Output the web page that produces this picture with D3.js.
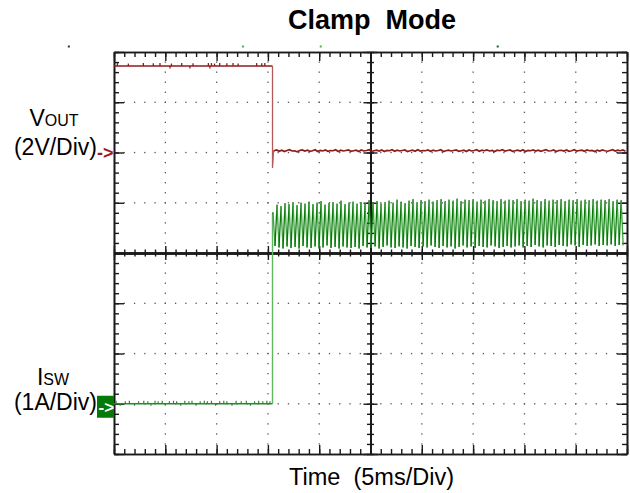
<!DOCTYPE html>
<html><head><meta charset="utf-8">
<script src="https://cdn.jsdelivr.net/npm/d3@7"></script>
<style>html,body{margin:0;padding:0;background:#fff;}svg{display:block;font-family:"Liberation Sans",Arial,sans-serif;}</style>
</head><body>
<script>
// ---- data ----
const titleText = "Clamp\u00A0 Mode";
const xLabel = "Time\u00A0 (5ms/Div)";
const timeDomain = [0, 50];            // ms, 10 div x 5 ms
const divMinor = 0.2, timeMinor = 1;
const sampleStep = 0.25;               // ms
const stepTime = 15.45;                // ms, switching event
// Vout (V) before the event: flat level plus noise spikes [t, dV]
const voutLevelBefore = 3.44;
const voutSpikes = [[0.33,0.12],[1.4,0.10],[2.86,0.12],[3.83,0.11],[4.48,0.12],[5.46,-0.10],[5.6,0.10],
  [6.6,0.12],[7.4,-0.10],[7.7,0.11],[9.2,0.12],[9.35,-0.10],[9.5,0.12],[9.8,0.10],[10.3,0.12],
  [11.0,0.11],[11.6,0.12],[12.1,0.10],[13.9,0.12],[14.4,0.11],[14.7,0.12]];
const voutStep = [[15.45,3.44],[15.45,-0.62],[15.55,0.07]];
const voutAfterStart = 15.6;
const voutAfter = [0.07,0.10,0.05,0.09,0.04,0.08,0.11,0.06,0.07,0.03,
  0.08,0.10,0.06,0.09,0.05,0.07,0.11,0.04,0.08,0.06,
  0.10,0.05,0.08,0.07,0.11,0.04,0.09,0.06,0.08,0.10,
  0.05,0.07,0.09,0.04,0.10,0.06,0.08,0.11,0.05,0.07,
  0.09,0.06,0.10,0.04,0.08,0.07,0.11,0.05,0.09,0.06,
  0.08,0.10,0.04,0.07,0.09,0.05,0.11,0.06,0.08,0.07,
  0.10,0.05,0.09,0.06,0.08,0.11,0.04,0.07,0.09,0.06,
  0.08,0.10,0.05,0.07,0.09,0.04,0.10,0.06,0.08,0.11,
  0.05,0.09,0.07,0.10,0.06,0.08,0.04,0.09,0.07,0.11,
  0.06,0.08,0.10,0.05,0.07,0.09,0.06,0.11,0.04,0.08,
  0.07,0.10,0.06,0.09,0.05,0.08,0.11,0.06,0.07,0.10,
  0.04,0.08,0.09,0.06,0.10,0.05,0.07,0.11,0.06,0.08,
  0.09,0.05,0.10,0.07,0.08,0.04,0.09,0.06,0.10,0.07,
  0.05,0.08,0.11,0.06,0.09,0.07,0.10,0.05];
// Isw (A) before the event: flat level plus noise spikes [t, dI]
const iswLevelBefore = 0.0;
const iswSpikes = [[0.2,0.06],[0.6,-0.04],[1.1,0.05],[1.5,0.06],[2.0,-0.04],[2.4,0.05],[2.9,0.06],
  [3.3,0.05],[3.6,-0.04],[4.0,0.06],[4.3,0.05],[4.7,0.06],[5.0,-0.04],[5.4,0.05],[5.8,0.06],
  [6.1,0.05],[6.5,-0.04],[6.9,0.06],[7.3,0.05],[7.6,0.06],[8.0,-0.04],[8.4,0.05],[8.8,0.06],
  [9.1,0.05],[9.5,0.06],[9.9,-0.04],[10.3,0.05],[10.7,0.06],[11.0,0.05],[11.5,-0.04],[11.9,0.06],
  [12.4,0.05],[12.9,0.06],[13.3,-0.04],[13.7,0.05],[14.1,0.06],[14.5,0.05],[14.9,0.06],[15.2,0.05]];
const iswStep = [[15.45,0.0],[15.45,3.78]];
const swStart = 15.5, swPeriod = 0.39;  // ms
const iswHigh = [3.80,3.95,3.92,3.98,3.96,4.00,3.94,3.99,3.97,4.01,
  3.96,3.99,4.02,3.95,3.98,4.00,3.97,4.03,3.96,3.99,
  4.01,3.97,4.00,3.98,4.04,3.99,4.02,3.97,4.00,4.03,
  3.99,4.05,4.01,3.98,4.03,4.06,4.00,4.04,4.02,4.05,
  4.01,4.04,4.06,4.02,4.05,4.03,4.07,4.02,4.05,4.04,
  4.06,4.01,4.05,4.03,4.06,4.04,4.02,4.06,4.03,4.05,
  4.04,4.06,4.02,4.05,4.03,4.07,4.04,4.02,4.06,4.03,
  4.05,4.04,4.06,4.02,4.05,4.04,4.06,4.03,4.05,4.04,
  4.06,4.03,4.05,4.04,4.06,4.02,4.05,4.04];
const iswLow = [3.15,3.12,3.10,3.14,3.11,3.13,3.10,3.15,3.12,3.11,
  3.14,3.10,3.12,3.16,3.11,3.13,3.10,3.14,3.12,3.11,
  3.13,3.10,3.15,3.12,3.11,3.14,3.10,3.13,3.16,3.12,
  3.11,3.14,3.12,3.10,3.15,3.13,3.11,3.14,3.12,3.16,
  3.13,3.11,3.15,3.12,3.14,3.10,3.13,3.16,3.12,3.14,
  3.11,3.15,3.13,3.12,3.16,3.14,3.11,3.13,3.15,3.12,
  3.14,3.16,3.12,3.15,3.13,3.17,3.14,3.12,3.16,3.15,
  3.13,3.17,3.15,3.14,3.18,3.16,3.13,3.17,3.15,3.16,
  3.18,3.15,3.17,3.16,3.18,3.15,3.17,3.16];
const triggerMarks = [{t:12.57, c:"#5aa85a"},{t:20.15, c:"#4caf50"},{t:37.4, c:"#1d5e1d"},{t:-4.4, c:"#333"}];

// ---- drawing ----
const W = 630, H = 493;
const svg = d3.select("body").append("svg").attr("width", W).attr("height", H);
const x = d3.scaleLinear().domain(timeDomain).range([114, 627]);
const yDiv = d3.scaleLinear().domain([-4, 4]).range([454, 52]);
const yV = d3.scaleLinear().domain([-12, 4]).range([454, 52]);   // 2V/div, ref at +2 div
const yI = d3.scaleLinear().domain([-1, 7]).range([454, 52]);    // 1A/div, ref at -3 div

const minorT = d3.range(0, 50.001, timeMinor);
const majorT = d3.range(0, 50.001, 5);
const minorD = d3.range(-4, 4.001, divMinor).map(v => +v.toFixed(2));
const majorD = d3.range(-4, 4.001, 1);

// grid dots
const dots = svg.append("g").attr("fill", "#555");
[5,10,15,20,30,35,40,45].forEach(t => {
  minorD.forEach(d => { if (d > -4 && d < 4) dots.append("rect").attr("x", x(t)-0.6).attr("y", yDiv(d)-0.6).attr("width",1.3).attr("height",1.3); });
});
[-3,-2,-1,1,2,3].forEach(d => {
  minorT.forEach(t => { if (t > 0 && t < 50) dots.append("rect").attr("x", x(t)-0.6).attr("y", yDiv(d)-0.6).attr("width",1.3).attr("height",1.3); });
});

function styleAxis(g, w) {
  g.selectAll("path.domain").attr("stroke", "#1a1a1a").attr("stroke-width", w);
  g.selectAll(".tick line").attr("stroke", "#1a1a1a").attr("stroke-width", 1.4);
  g.selectAll("text").remove();
}
function addAxis(axisFn, scale, vals, size, transform, w) {
  const g = svg.append("g").attr("transform", transform)
    .call(axisFn(scale).tickValues(vals).tickSize(size).tickSizeOuter(0).tickFormat(""));
  styleAxis(g, w);
}
// frame
addAxis(d3.axisBottom, x, minorT, 5, `translate(0,${yDiv(4)})`, 1.6);
addAxis(d3.axisBottom, x, majorT, 9, `translate(0,${yDiv(4)})`, 1.6);
addAxis(d3.axisTop, x, minorT, 5, `translate(0,${yDiv(-4)})`, 1.6);
addAxis(d3.axisTop, x, majorT, 9, `translate(0,${yDiv(-4)})`, 1.6);
addAxis(d3.axisRight, yDiv, minorD, 5, `translate(${x(0)},0)`, 1.6);
addAxis(d3.axisRight, yDiv, majorD, 10, `translate(${x(0)},0)`, 1.6);
addAxis(d3.axisLeft, yDiv, minorD, 5, `translate(${x(50)},0)`, 1.6);
addAxis(d3.axisLeft, yDiv, majorD, 10, `translate(${x(50)},0)`, 1.6);
// centre cross
addAxis(d3.axisBottom, x, minorT, 3.5, `translate(0,${yDiv(0)})`, 1.8);
addAxis(d3.axisTop, x, minorT, 3.5, `translate(0,${yDiv(0)})`, 1.8);
addAxis(d3.axisBottom, x, majorT, 7, `translate(0,${yDiv(0)})`, 1.8);
addAxis(d3.axisTop, x, majorT, 7, `translate(0,${yDiv(0)})`, 1.8);
addAxis(d3.axisRight, yDiv, minorD, 3.5, `translate(${x(25)},0)`, 1.8);
addAxis(d3.axisLeft, yDiv, minorD, 3.5, `translate(${x(25)},0)`, 1.8);
addAxis(d3.axisRight, yDiv, majorD, 7, `translate(${x(25)},0)`, 1.8);
addAxis(d3.axisLeft, yDiv, majorD, 7, `translate(${x(25)},0)`, 1.8);

// traces
const lineV = d3.line().x(d => x(d[0])).y(d => yV(d[1]));
const lineI = d3.line().x(d => x(d[0])).y(d => yI(d[1]));
const red = "#8e1b1b", green = "#067a06";
// Vout before
svg.append("path").attr("d", lineV([[0, voutLevelBefore],[stepTime, voutLevelBefore]]))
  .attr("fill","none").attr("stroke",red).attr("stroke-width",1.4);
svg.append("g").selectAll("line").data(voutSpikes).join("line")
  .attr("x1", d => x(d[0])).attr("x2", d => x(d[0]))
  .attr("y1", yV(voutLevelBefore)).attr("y2", d => yV(voutLevelBefore + d[1]))
  .attr("stroke", red).attr("stroke-width", 1.3);
svg.append("path").attr("d", lineV(voutStep)).attr("fill","none").attr("stroke","#b45a5a").attr("stroke-width",1.3);
const va = voutAfter.map((v, i) => [voutAfterStart + i * sampleStep, v]);
svg.append("path").attr("d", lineV([voutStep[2]].concat(va))).attr("fill","none").attr("stroke",red).attr("stroke-width",1.7);

// Isw before
svg.append("path").attr("d", lineI([[0, iswLevelBefore],[stepTime, iswLevelBefore]]))
  .attr("fill","none").attr("stroke","#2a8a2a").attr("stroke-width",1.4);
svg.append("g").selectAll("line").data(iswSpikes).join("line")
  .attr("x1", d => x(d[0])).attr("x2", d => x(d[0]))
  .attr("y1", yI(iswLevelBefore)).attr("y2", d => yI(iswLevelBefore + d[1]))
  .attr("stroke", "#2a8a2a").attr("stroke-width", 1.2);
svg.append("path").attr("d", lineI(iswStep)).attr("fill","none").attr("stroke","#62b562").attr("stroke-width",1.4);
// switching waveform: zigzag between peaks and valleys, rising edges dark, falling edges lighter
const edges = [];
iswHigh.forEach((h, k) => {
  const t0 = swStart + k * swPeriod;
  const prevLow = k === 0 ? iswStep[1][1] : iswLow[k-1];
  const prevT = k === 0 ? iswStep[1][0] : t0 - swPeriod/2;
  edges.push({t1: prevT, v1: prevLow, t2: t0, v2: h, rise: true});
  edges.push({t1: t0, v1: h, t2: t0 + swPeriod/2, v2: iswLow[k], rise: false});
});
svg.append("g").selectAll("line").data(edges).join("line")
  .attr("x1", d => x(d.t1)).attr("x2", d => x(d.t2))
  .attr("y1", d => yI(d.v1)).attr("y2", d => yI(d.v2))
  .attr("stroke", d => d.rise ? green : "#3f9f3f")
  .attr("stroke-width", 1.3).attr("stroke-linecap","round");

// trigger marks
triggerMarks.forEach(m => svg.append("rect").attr("x", x(m.t)-1).attr("y", 45.5).attr("width", 2).attr("height", 2).attr("fill", m.c));

// texts
svg.append("text").attr("x", 372).attr("y", 29).attr("text-anchor","middle")
  .attr("font-size", 27).attr("font-weight","bold").attr("fill","#000").text(titleText);
svg.append("text").attr("x", 371.5).attr("y", 485).attr("text-anchor","middle")
  .attr("font-size", 23.5).attr("fill","#000").text(xLabel);

const vl = svg.append("text").attr("x", 54).attr("y", 126).attr("text-anchor","middle").attr("fill","#000");
vl.append("tspan").attr("font-size", 23).text("V");
vl.append("tspan").attr("font-size", 16).text("OUT");
svg.append("text").attr("x", 97).attr("y", 155).attr("text-anchor","end").attr("font-size", 23).attr("fill","#000").text("(2V/Div)");
svg.append("text").attr("x", 97).attr("y", yV(0) + 6).attr("font-size", 18).attr("font-weight","bold").attr("fill","#a01c1c").text("->");

const il = svg.append("text").attr("x", 53).attr("y", 385).attr("text-anchor","middle").attr("fill","#000");
il.append("tspan").attr("font-size", 23).text("I");
il.append("tspan").attr("font-size", 16).text("SW");
svg.append("text").attr("x", 97).attr("y", 410).attr("text-anchor","end").attr("font-size", 23).attr("fill","#000").text("(1A/Div)");
svg.append("rect").attr("x", 97).attr("y", yI(0) - 8).attr("width", 17).attr("height", 22).attr("fill", "#057a05");
svg.append("text").attr("x", 98.5).attr("y", yI(0) + 9).attr("font-size", 17).attr("font-weight","bold").attr("fill","#fff").text("->");
</script>
</body></html>
